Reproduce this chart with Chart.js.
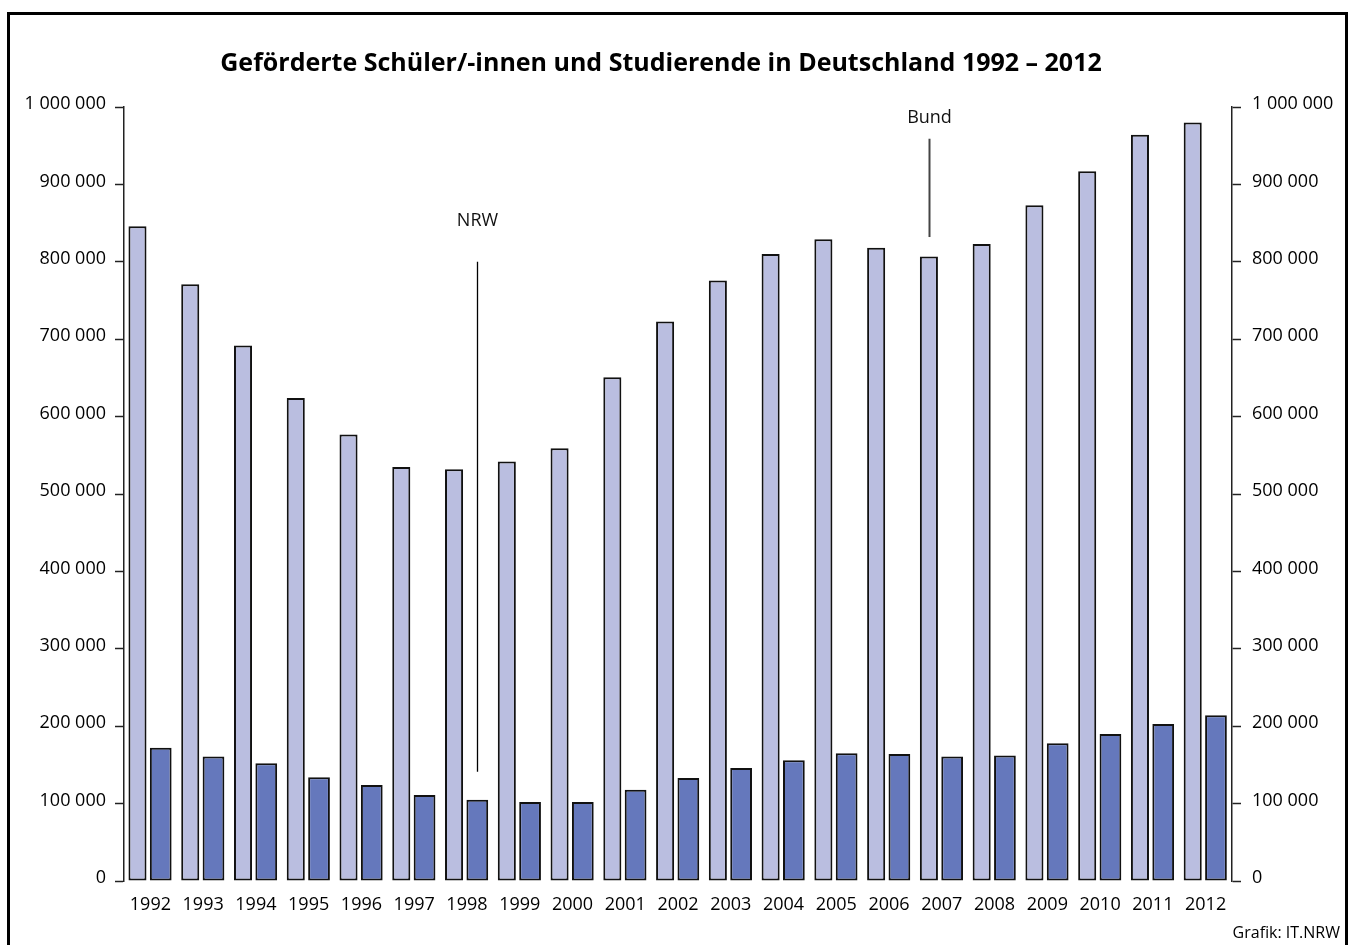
<!DOCTYPE html>
<html lang="de">
<head>
<meta charset="utf-8">
<title>Geförderte Schüler/-innen und Studierende in Deutschland 1992 – 2012</title>
<script src="https://cdn.jsdelivr.net/npm/chart.js@4.4.1/dist/chart.umd.min.js"></script>
<style>
    html, body { margin: 0; padding: 0; background: #fff; overflow: hidden; }
    #wrap { position: relative; width: 1354px; height: 945px; }
    #frame {
        position: absolute; left: 7px; top: 12px; width: 1341px; height: 960px;
        box-sizing: border-box; border: 3px solid #000; pointer-events: none;
    }
    canvas { position: absolute; left: 0; top: 0; }
</style>
</head>
<body>
<div id="wrap">
    <canvas id="foerderChart" width="1354" height="945"></canvas>
    <div id="frame"></div>
</div>
<script>
// ─── Daten ────────────────────────────────────────────────────────────────────
const years = ['1992', '1993', '1994', '1995', '1996', '1997', '1998', '1999', '2000', '2001',
               '2002', '2003', '2004', '2005', '2006', '2007', '2008', '2009', '2010', '2011', '2012'];
const bund = [846000, 771000, 692000, 624000, 577000, 535000, 532000, 542000, 559000, 651000,
              723000, 776000, 810000, 829000, 818000, 807000, 823000, 873000, 917000, 964000, 980000];
const nrw = [172000, 161000, 152000, 134000, 124000, 111000, 105000, 102000, 102000, 118000,
             133000, 146000, 156000, 165000, 164000, 161000, 162000, 178000, 190000, 203000, 214000];
const yTicks = [0, 100000, 200000, 300000, 400000, 500000, 600000, 700000, 800000, 900000, 1000000];

// Beschriftungen an den Säulen: [Text, Jahr-Index, Datensatz, Textwert, Linie von, Linie bis]
const labelNRW = ['NRW', 6, 1, 853000, 800000, 141000];
const labelBund = ['Bund', 15, 0, 986000, 959000, 832000];

const titleText = 'Geförderte Schüler/-innen und Studierende in Deutschland 1992 – 2012';
const sourceText = 'Grafik: IT.NRW';

const FONT = '"Open Sans", "Noto Sans", sans-serif';

function fmt(v) {
    return String(v).replace(/\B(?=(\d{3})+(?!\d))/g, ' ');
}

// ─── Plugin: Titel, Quelle, Hinweislinien ─────────────────────────────────────
const extras = {
    id: 'extras',
    afterDraw(chart) {
        const ctx = chart.ctx;
        const y = chart.scales.y;
        ctx.save();
        ctx.fillStyle = '#000';
        ctx.textAlign = 'center';
        ctx.textBaseline = 'middle';
        ctx.font = `bold 25px ${FONT}`;
        ctx.fillText(titleText, 661, 64);

        ctx.font = `16px ${FONT}`;
        ctx.textAlign = 'right';
        ctx.fillText(sourceText, 1340, 933);

        [labelNRW, labelBund].forEach(([text, idx, ds, at, from, to]) => {
            const bar = chart.getDatasetMeta(ds).data[idx];
            const px = Math.round(bar.x) + 0.5;
            const top = y.getPixelForValue(from);
            const bottom = y.getPixelForValue(to);
            ctx.strokeStyle = ds === 0 ? '#444' : '#000';
            ctx.lineWidth = ds === 0 ? 2 : 1.3;
            ctx.beginPath();
            ctx.moveTo(px, top);
            ctx.lineTo(px, bottom);
            ctx.stroke();
            ctx.font = `18px ${FONT}`;
            ctx.textAlign = 'center';
            ctx.fillStyle = '#111';
            ctx.fillText(text, px, y.getPixelForValue(at));
        });
        ctx.restore();
    }
};

// ─── Chart ────────────────────────────────────────────────────────────────────
const axisColor = '#222';
const yTickOpts = {
    stepSize: 100000,
    color: '#000',
    font: { family: FONT, size: 18 },
    labelOffset: -3,
    callback: (v) => fmt(v)
};

new Chart(document.getElementById('foerderChart'), {
    type: 'bar',
    data: {
        labels: years,
        datasets: [
            {
                label: 'Bund',
                data: bund,
                backgroundColor: '#babee0',
                borderColor: '#111',
                borderWidth: 2,
                borderSkipped: false,
                categoryPercentage: 0.978,
                barPercentage: 0.70
            },
            {
                label: 'NRW',
                data: nrw,
                backgroundColor: '#6578bc',
                borderColor: '#111',
                borderWidth: 2,
                borderSkipped: false,
                categoryPercentage: 0.785,
                barPercentage: 1.05
            }
        ]
    },
    options: {
        responsive: false,
        animation: false,
        layout: { padding: { top: 107, left: 0, right: 0, bottom: 0 } },
        plugins: {
            legend: { display: false },
            title: { display: false },
            tooltip: { enabled: false }
        },
        scales: {
            x: {
                grid: { display: false },
                border: { display: false },
                ticks: { color: '#000', font: { family: FONT, size: 18 }, padding: 5, maxRotation: 0, autoSkip: false },
                afterFit: (s) => { s.height = 64; }
            },
            y: {
                position: 'left',
                min: 0,
                max: 1000000,
                afterBuildTicks: (s) => { s.ticks = yTicks.map(v => ({ value: v })); },
                grid: { drawOnChartArea: false, tickLength: 9, color: axisColor, tickWidth: 1.5 },
                border: { color: axisColor, width: 1.5 },
                ticks: Object.assign({ padding: 9 }, yTickOpts),
                afterFit: (s) => { s.width = 124; }
            },
            y2: {
                position: 'right',
                min: 0,
                max: 1000000,
                afterBuildTicks: (s) => { s.ticks = yTicks.map(v => ({ value: v })); },
                grid: { drawOnChartArea: false, tickLength: 9, color: axisColor, tickWidth: 1.5 },
                border: { color: axisColor, width: 1.5 },
                ticks: Object.assign({ padding: 11 }, yTickOpts),
                afterFit: (s) => { s.width = 122; }
            }
        }
    },
    plugins: [extras]
});
</script>
</body>
</html>
